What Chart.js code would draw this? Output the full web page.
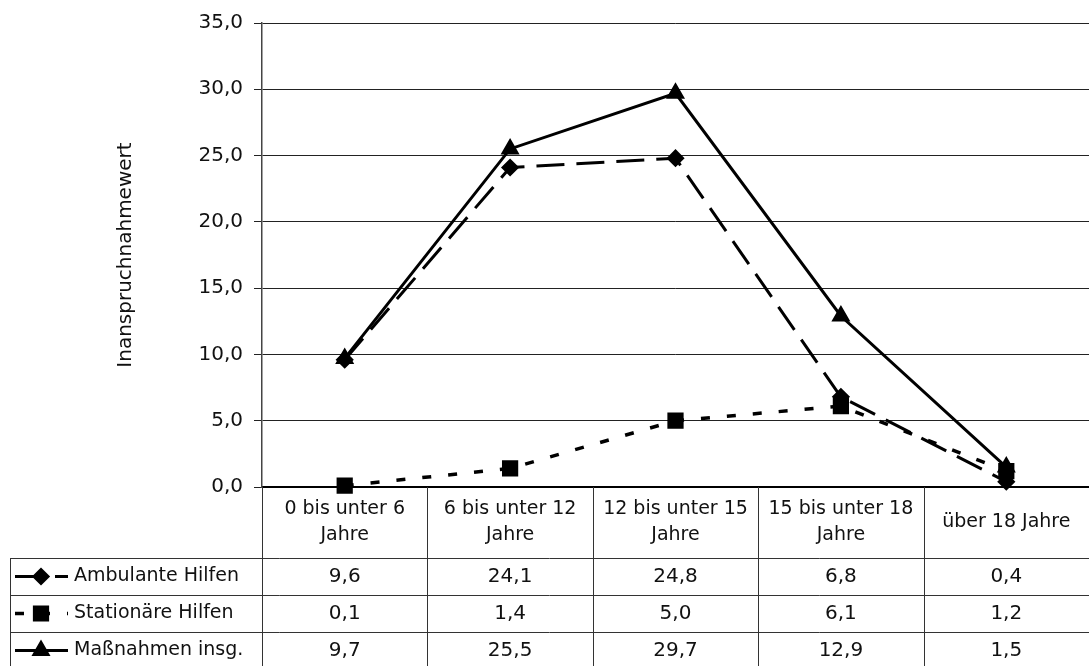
<!DOCTYPE html>
<html lang="de">
<head>
<meta charset="utf-8">
<title>Inanspruchnahmewert nach Altersgruppen</title>
<script src="https://cdn.jsdelivr.net/npm/chart.js@4.4.1/dist/chart.umd.min.js"></script>
<style>
    html, body { margin: 0; padding: 0; background: #fff; overflow: hidden; }
    #wrap { width: 1089px; height: 666px; position: relative; }
    #hilfenChart { display: block; }
</style>
</head>
<body>
<div id="wrap"><canvas id="hilfenChart"></canvas></div>
<script>
// Daten aus der Grafik
const categories = [
    ['0 bis unter 6', 'Jahre'],
    ['6 bis unter 12', 'Jahre'],
    ['12 bis unter 15', 'Jahre'],
    ['15 bis unter 18', 'Jahre'],
    ['über 18 Jahre']
];
const seriesLabels = ['Ambulante Hilfen', 'Stationäre Hilfen', 'Maßnahmen insg.'];
const ambulanteHilfen = [9.6, 24.1, 24.8, 6.8, 0.4];
const stationaereHilfen = [0.1, 1.4, 5.0, 6.1, 1.2];
const massnahmenInsg = [9.7, 25.5, 29.7, 12.9, 1.5];
const yMin = 0;
const yMax = 35;
const yStep = 5;
const yTitle = 'Inanspruchnahmewert';

const FONT = "'DejaVu Sans', sans-serif";

// Zahlen mit Komma
const fmt = (v) => v.toFixed(1).replace('.', ',');

// Tabelle unter dem Diagramm
const tablePlugin = {
    id: 'dataTable',
    afterDraw(chart) {
        const ctx = chart.ctx;
        const x = chart.scales.x;
        const area = chart.chartArea;
        const n = categories.length;
        const colW = (area.right - area.left) / n;
        const headTop = area.bottom;
        const rowTops = [558, 595, 632];
        const rowH = 37;
        const bottom = 670;
        const leftEdge = 10;

        ctx.save();
        ctx.strokeStyle = '#333';
        ctx.lineWidth = 1;

        // senkrechte Linien
        for (let i = 0; i <= n; i++) {
            const px = Math.round(area.left + i * colW) + 0.5;
            ctx.beginPath();
            ctx.moveTo(px, headTop);
            ctx.lineTo(px, bottom);
            ctx.stroke();
        }
        ctx.beginPath();
        ctx.moveTo(leftEdge + 0.5, rowTops[0]);
        ctx.lineTo(leftEdge + 0.5, bottom);
        ctx.stroke();

        // waagerechte Linien
        rowTops.forEach(t => {
            ctx.beginPath();
            ctx.moveTo(leftEdge, t + 0.5);
            ctx.lineTo(area.right, t + 0.5);
            ctx.stroke();
        });

        // Kopfzeile
        ctx.fillStyle = '#111';
        ctx.font = '19px ' + FONT;
        ctx.textAlign = 'center';
        ctx.textBaseline = 'middle';
        categories.forEach((lab, i) => {
            const cx = x.getPixelForValue(i);
            if (lab.length === 2) {
                ctx.fillText(lab[0], cx, headTop + 22);
                ctx.fillText(lab[1], cx, headTop + 48);
            } else {
                ctx.fillText(lab[0], cx, headTop + 35);
            }
        });

        // Werte
        ctx.font = '20px ' + FONT;
        chart.data.datasets.forEach((ds, r) => {
            const cy = rowTops[r] + rowH / 2;
            ds.data.forEach((v, i) => {
                ctx.fillText(fmt(v), x.getPixelForValue(i), cy);
            });
        });

        // Legendenschlüssel
        chart.data.datasets.forEach((ds, r) => {
            const cy = rowTops[r] + rowH / 2;
            ctx.save();
            ctx.strokeStyle = ds.borderColor;
            ctx.fillStyle = ds.pointBackgroundColor;
            ctx.lineWidth = ds.borderWidth;
            ctx.setLineDash(ds.borderDash || []);
            ctx.beginPath();
            ctx.moveTo(15, cy);
            ctx.lineTo(68, cy);
            ctx.stroke();
            ctx.setLineDash([]);
            Chart.helpers.drawPoint(ctx, {
                pointStyle: ds.pointStyle,
                radius: ds.pointRadius,
                rotation: 0,
                borderWidth: 1
            }, 41, cy);
            ctx.restore();

            ctx.fillStyle = '#111';
            ctx.font = '19px ' + FONT;
            ctx.textAlign = 'left';
            ctx.fillText(ds.label, 74, cy);
        });
        ctx.restore();
    }
};

const ctx = document.getElementById('hilfenChart').getContext('2d');
const hilfenChart = new Chart(ctx, {
    type: 'line',
    data: {
        labels: categories,
        datasets: [
            {
                label: seriesLabels[0],
                data: ambulanteHilfen,
                borderColor: '#000',
                pointBackgroundColor: '#000',
                pointBorderColor: '#000',
                borderWidth: 3,
                borderDash: [28, 12],
                pointStyle: 'rectRot',
                pointRadius: 7,
                tension: 0,
                clip: false
            },
            {
                label: seriesLabels[1],
                data: stationaereHilfen,
                borderColor: '#000',
                pointBackgroundColor: '#000',
                pointBorderColor: '#000',
                borderWidth: 3.5,
                borderDash: [9, 17],
                pointStyle: 'rect',
                pointRadius: 9,
                tension: 0,
                clip: false
            },
            {
                label: seriesLabels[2],
                data: massnahmenInsg,
                borderColor: '#000',
                pointBackgroundColor: '#000',
                pointBorderColor: '#000',
                borderWidth: 3,
                pointStyle: 'triangle',
                pointRadius: 8,
                tension: 0,
                clip: false
            }
        ]
    },
    options: {
        responsive: true,
        maintainAspectRatio: false,
        animation: false,
        layout: {
            autoPadding: false,
            padding: { top: 22, right: 0, bottom: 0, left: 0 }
        },
        plugins: {
            legend: { display: false },
            tooltip: { enabled: false }
        },
        scales: {
            x: {
                type: 'category',
                offset: true,
                grid: { display: false },
                border: { display: true, color: '#000', width: 2 },
                ticks: { display: false },
                afterFit: (scale) => { scale.height = 179; }
            },
            y: {
                min: yMin,
                max: yMax,
                ticks: {
                    stepSize: yStep,
                    color: '#111',
                    padding: 11,
                    font: { family: FONT, size: 20 },
                    callback: (v) => fmt(v)
                },
                grid: { color: '#222', lineWidth: 1, tickLength: 8 },
                border: { color: '#444', width: 1.5 },
                title: {
                    display: true,
                    text: yTitle,
                    color: '#111',
                    font: { family: FONT, size: 20 },
                    padding: { top: 114, bottom: 0 }
                },
                afterFit: (scale) => { scale.width = 262; }
            }
        }
    },
    plugins: [tablePlugin]
});
</script>
</body>
</html>
